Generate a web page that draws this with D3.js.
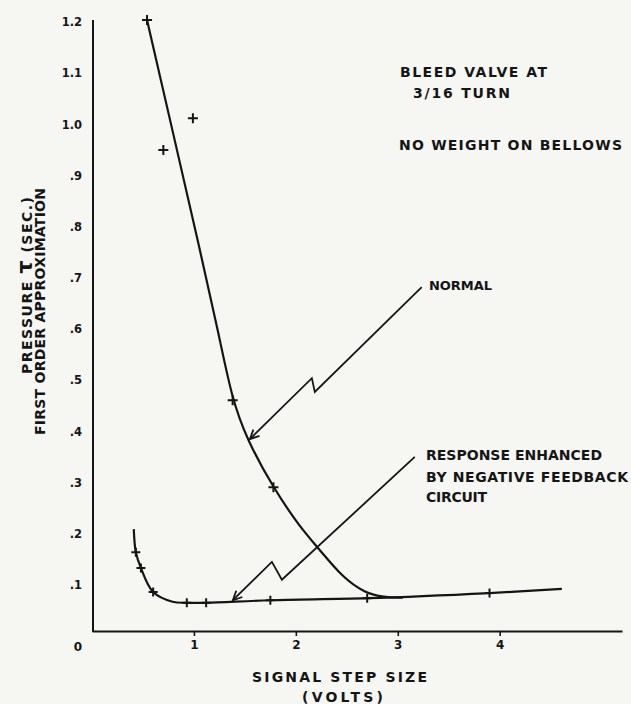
<!DOCTYPE html>
<html>
<head>
<meta charset="utf-8">
<script src="https://cdn.jsdelivr.net/npm/d3@7"></script>
<style>
  body { margin: 0; background: #f6f6f3; }
  svg { display: block; }
  text { font-family: "DejaVu Sans", sans-serif; fill: #151515; }
</style>
</head>
<body>
<svg id="chart"></svg>
<script>
// values (x = signal step size in volts, y = tau in seconds)
var xTicks = [1, 2, 3, 4];
var yTicks = [0.1, 0.2, 0.3, 0.4, 0.5, 0.6, 0.7, 0.8, 0.9, 1.0, 1.1, 1.2];
var yTickLabels = [".1", ".2", ".3", ".4", ".5", ".6", ".7", ".8", ".9", "1.0", "1.1", "1.2"];

// "normal" faired curve and its plotted points
var normalX = [0.54, 0.80, 1.06, 1.24, 1.37, 1.52, 1.78, 2.04, 2.22, 2.46, 2.68, 2.86, 3.05];
var normalY = [1.20, 0.975, 0.750, 0.590, 0.462, 0.380, 0.285, 0.209, 0.168, 0.110, 0.080, 0.072, 0.071];
var normalPtsX = [0.54, 0.70, 0.99, 1.38, 1.78];
var normalPtsY = [1.20, 0.946, 1.008, 0.457, 0.287];

// negative feedback curve and its plotted points
var feedbackX = [0.41, 0.43, 0.48, 0.60, 0.79, 0.93, 1.12, 1.75, 2.70, 3.90, 4.61];
var feedbackY = [0.205, 0.160, 0.129, 0.082, 0.063, 0.061, 0.061, 0.066, 0.070, 0.080, 0.088];
var feedbackPtsX = [0.43, 0.48, 0.60, 0.93, 1.12, 1.75, 2.70, 3.90];
var feedbackPtsY = [0.160, 0.129, 0.082, 0.061, 0.061, 0.066, 0.070, 0.080];

// zig-zag leader arrows, in data units (tail ... tip)
var normalArrowX = [3.235, 2.186, 2.157, 1.55];
var normalArrowY = [0.678, 0.473, 0.500, 0.381];
var feedbackArrowX = [3.167, 1.863, 1.765, 1.382];
var feedbackArrowY = [0.346, 0.106, 0.141, 0.066];

var width = 631, height = 704;
var ink = "#151515";

var svg = d3.select("#chart").attr("width", width).attr("height", height);
svg.append("rect").attr("width", width).attr("height", height).attr("fill", "#f6f6f3");

var x = d3.scaleLinear().domain([0, 5.2]).range([92, 622]);
var y = d3.scaleLinear().domain([0, 1.2]).range([634, 20]);
var axisY = 631;

// x axis
var xa = svg.append("g")
    .attr("transform", "translate(0," + axisY + ")")
    .call(d3.axisBottom(x).tickValues(xTicks).tickSize(5).tickSizeOuter(0).tickPadding(4).tickFormat(d3.format("d")));
xa.select(".domain").attr("stroke", ink).attr("stroke-width", 2);
xa.selectAll(".tick line").attr("stroke", ink).attr("stroke-width", 1.6);
xa.selectAll(".tick text").attr("font-size", 12).attr("font-weight", "bold").attr("fill", ink);

// y axis
var ya = svg.append("g")
    .attr("transform", "translate(93,0)")
    .call(d3.axisLeft(y).tickValues(yTicks).tickSize(0).tickPadding(11).tickFormat((d, i) => yTickLabels[i]));
ya.select(".domain").remove();
ya.selectAll(".tick text").attr("font-size", 11.5).attr("font-weight", "bold").attr("fill", ink).attr("dy", "0.5em");
ya.append("line").attr("x1", 0).attr("x2", 0).attr("y1", y(1.2)).attr("y2", axisY + 1)
    .attr("stroke", ink).attr("stroke-width", 2);
svg.append("text").attr("x", 78).attr("y", 651).attr("text-anchor", "middle")
    .attr("font-size", 12).attr("font-weight", "bold").text("0");

// curves
var line = d3.line().x((d) => x(d[0])).y((d) => y(d[1])).curve(d3.curveCatmullRom.alpha(0.5));
var smooth = d3.line().x((d) => x(d[0])).y((d) => y(d[1])).curve(d3.curveBasis);
svg.append("path").datum(d3.zip(feedbackX, feedbackY)).attr("d", line)
    .attr("fill", "none").attr("stroke", ink).attr("stroke-width", 2.2);
svg.append("path").datum(d3.zip(normalX, normalY)).attr("d", smooth)
    .attr("fill", "none").attr("stroke", ink).attr("stroke-width", 2.2);

// plus markers
function plus(xs, ys, r) {
    svg.append("g").selectAll("path").data(d3.zip(xs, ys)).enter().append("path")
        .attr("transform", (d) => "translate(" + x(d[0]) + "," + y(d[1]) + ")")
        .attr("d", "M" + (-r) + ",0H" + r + "M0," + (-r) + "V" + r)
        .attr("stroke", ink).attr("stroke-width", 2).attr("fill", "none");
}
plus(normalPtsX, normalPtsY, 5);
plus(feedbackPtsX, feedbackPtsY, 4.5);

// leader arrows
function arrow(xs, ys) {
    var pts = d3.zip(xs, ys).map((d) => [x(d[0]), y(d[1])]);
    svg.append("path").attr("d", d3.line()(pts))
        .attr("fill", "none").attr("stroke", ink).attr("stroke-width", 1.8);
    var tip = pts[pts.length - 1], prev = pts[pts.length - 2];
    var a = Math.atan2(prev[1] - tip[1], prev[0] - tip[0]);
    var len = 10, spread = 0.45;
    var head = [[tip[0] + len * Math.cos(a - spread), tip[1] + len * Math.sin(a - spread)], tip,
                [tip[0] + len * Math.cos(a + spread), tip[1] + len * Math.sin(a + spread)]];
    svg.append("path").attr("d", d3.line()(head))
        .attr("fill", "none").attr("stroke", ink).attr("stroke-width", 1.8);
}
arrow(normalArrowX, normalArrowY);
arrow(feedbackArrowX, feedbackArrowY);

// text blocks stretched to the width they take on the original
function label(str, x0, x1, yc, size, weight) {
    return svg.append("text").attr("x", x0).attr("y", yc + size * 0.36)
        .attr("font-size", size).attr("font-weight", weight)
        .attr("textLength", x1 - x0).attr("lengthAdjust", "spacing").text(str);
}
label("BLEED VALVE AT", 400, 547, 72, 14, "bold");
label("3/16 TURN", 413, 510, 93, 14, "bold");
label("NO WEIGHT ON BELLOWS", 399, 622, 145, 14, "bold");
label("NORMAL", 429, 492, 285, 13, "bold");
label("RESPONSE ENHANCED", 426, 602, 455, 14, "bold");
label("BY NEGATIVE FEEDBACK", 426, 628, 477, 14, "bold");
label("CIRCUIT", 426, 487, 497, 14, "bold");
label("SIGNAL STEP SIZE", 252, 427, 677, 14, "bold");
label("(VOLTS)", 302, 383, 697, 14, "bold");

// rotated y title
var t1 = svg.append("text").attr("transform", "translate(32,374) rotate(-90)")
    .attr("font-size", 14).attr("font-weight", "bold").attr("textLength", 177).attr("lengthAdjust", "spacing");
t1.append("tspan").text("PRESSURE ");
t1.append("tspan").attr("font-size", 21).text("τ");
t1.append("tspan").text(" (SEC.)");
svg.append("text").attr("transform", "translate(45,435) rotate(-90)")
    .attr("font-size", 14).attr("font-weight", "bold").attr("textLength", 247).attr("lengthAdjust", "spacing")
    .text("FIRST ORDER APPROXIMATION");
</script>
</body>
</html>
